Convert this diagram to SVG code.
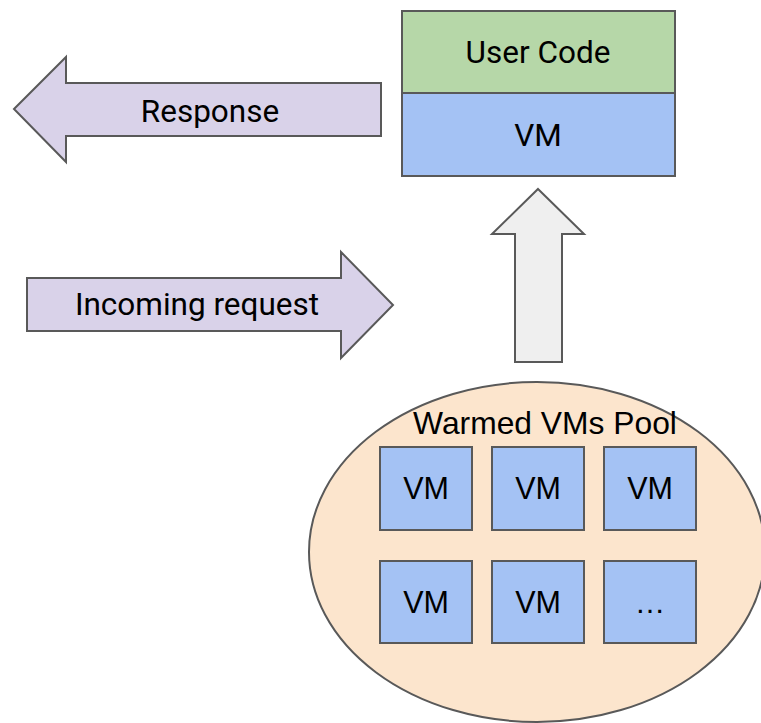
<svg xmlns="http://www.w3.org/2000/svg" width="761" height="723" viewBox="0 0 761 723">
<style>
.s{stroke:#595959;stroke-width:2;stroke-linejoin:miter}
.t{font-family:Roboto,"Liberation Sans",sans-serif;font-size:31.5px;fill:#000;text-anchor:middle}
.a{font-family:"Liberation Sans",Arial,sans-serif;font-size:30.5px;fill:#000;text-anchor:middle}
.vm{fill:#a4c2f4}
</style>
<rect width="761" height="723" fill="#fff"/>
<g id="connectors">
<g id="response">
<polygon class="s" fill="#d9d2e9" points="14,109 66,57 66,83 381,83 381,136 66,136 66,162"/>
<text class="t" x="210" y="122">Response</text>
</g>
<g id="incoming">
<polygon class="s" fill="#d9d2e9" points="27,278 341,278 341,252 393,305 341,358 341,331 27,331"/>
<text class="t" x="197" y="315">Incoming request</text>
</g>
<g id="up">
<polygon class="s" fill="#efefef" points="538,189 584,234 562,234 562,362 515,362 515,234 492,234"/>
</g>
</g>
<g id="stack">
<rect class="s" x="402" y="11" width="273" height="82" fill="#b6d7a8"/>
<text class="t" x="538" y="63">User Code</text>
<rect class="s vm" x="402" y="93" width="273" height="83"/>
<text class="t" x="538" y="146">VM</text>
</g>
<g id="pool">
<ellipse class="s" cx="537" cy="552" rx="228" ry="170" fill="#fce5cd"/>
<text class="a" x="545" y="434" style="font-size:31.8px">Warmed VMs Pool</text>
</g>
<g id="vm1"><rect class="s vm" x="380" y="447" width="92" height="83"/><text class="a" x="426" y="499">VM</text></g>
<g id="vm2"><rect class="s vm" x="492" y="447" width="92" height="83"/><text class="a" x="538" y="499">VM</text></g>
<g id="vm3"><rect class="s vm" x="604" y="447" width="92" height="83"/><text class="a" x="650" y="499">VM</text></g>
<g id="vm4"><rect class="s vm" x="380" y="561" width="92" height="82"/><text class="a" x="426" y="613">VM</text></g>
<g id="vm5"><rect class="s vm" x="492" y="561" width="92" height="82"/><text class="a" x="538" y="613">VM</text></g>
<g id="vm6"><rect class="s vm" x="604" y="561" width="92" height="82"/><text class="a" x="650" y="613">…</text></g>
</svg>
